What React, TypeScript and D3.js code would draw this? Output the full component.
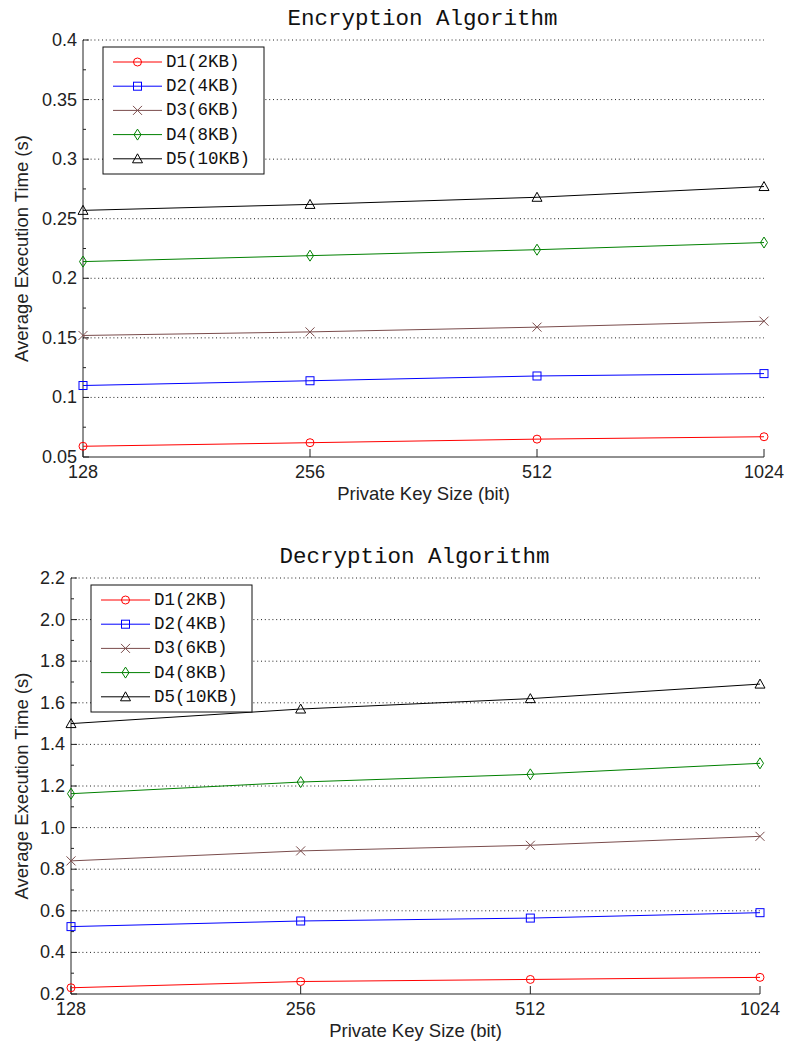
import React, { useEffect, useRef } from "react";
import * as d3 from "d3";

// private key sizes (bit) on the x axis
const keySizes = [128, 256, 512, 1024];
const seriesNames = ["D1(2KB)", "D2(4KB)", "D3(6KB)", "D4(8KB)", "D5(10KB)"];
const seriesColors = ["#ff0000", "#0000ff", "#7a4c4c", "#008000", "#000000"];
const seriesMarkers = ["circle", "square", "cross", "diamond", "triangle"];

// encryption times (s)
const encD1 = [0.059, 0.062, 0.065, 0.067];
const encD2 = [0.11, 0.114, 0.118, 0.12];
const encD3 = [0.152, 0.155, 0.159, 0.164];
const encD4 = [0.214, 0.219, 0.224, 0.23];
const encD5 = [0.257, 0.262, 0.268, 0.277];
const encTicks = [0.05, 0.1, 0.15, 0.2, 0.25, 0.3, 0.35, 0.4];
const encTickLabels = ["0.05", "0.1", "0.15", "0.2", "0.25", "0.3", "0.35", "0.4"];

// decryption times (s)
const decD1 = [0.23, 0.26, 0.27, 0.28];
const decD2 = [0.524, 0.551, 0.565, 0.591];
const decD3 = [0.84, 0.888, 0.915, 0.958];
const decD4 = [1.163, 1.219, 1.256, 1.309];
const decD5 = [1.5, 1.57, 1.62, 1.69];
const decTicks = [0.2, 0.4, 0.6, 0.8, 1.0, 1.2, 1.4, 1.6, 1.8, 2.0, 2.2];
const decTickLabels = ["0.2", "0.4", "0.6", "0.8", "1.0", "1.2", "1.4", "1.6", "1.8", "2.0", "2.2"];

const SANS = "'Liberation Sans', Arial, sans-serif";
const MONO = "'Liberation Mono', 'Courier New', monospace";

type Box = { left: number; right: number; top: number; bottom: number };

const drawMarker = (g: any, type: string, x: number, y: number, color: string) => {
  const m = g.append("g").attr("transform", `translate(${x},${y})`);
  const style = (s: any) => s.attr("fill", "none").attr("stroke", color).attr("stroke-width", 1);
  if (type === "circle") style(m.append("circle").attr("r", 4));
  else if (type === "square") style(m.append("rect").attr("x", -4).attr("y", -4).attr("width", 8).attr("height", 8));
  else if (type === "cross") style(m.append("path").attr("d", "M-4.5,-4.5L4.5,4.5M4.5,-4.5L-4.5,4.5"));
  else if (type === "diamond") style(m.append("path").attr("d", "M0,-5.5L3.5,0L0,5.5L-3.5,0Z"));
  else if (type === "triangle") style(m.append("path").attr("d", "M0,-5L5,4L-5,4Z"));
};

const drawChart = (svg: any, box: Box, title: string, series: number[][], ticks: number[], tickLabels: string[]) => {
  const x = d3.scaleLog().base(2).domain([keySizes[0], keySizes[keySizes.length - 1]]).range([box.left, box.right]);
  const y = d3.scaleLinear().domain([ticks[0], ticks[ticks.length - 1]]).range([box.bottom, box.top]);
  const cx = (box.left + box.right) / 2;

  // dotted grid
  svg
    .append("g")
    .selectAll("line")
    .data(ticks.slice(1))
    .join("line")
    .attr("x1", box.left)
    .attr("x2", box.right)
    .attr("y1", (d: number) => y(d))
    .attr("y2", (d: number) => y(d))
    .attr("stroke", "#222")
    .attr("stroke-width", 1)
    .attr("stroke-dasharray", "1 2.8");

  // axes lines
  svg.append("line").attr("x1", box.left).attr("x2", box.left).attr("y1", box.top).attr("y2", box.bottom).attr("stroke", "#222");
  svg.append("line").attr("x1", box.left).attr("x2", box.right).attr("y1", box.bottom).attr("y2", box.bottom).attr("stroke", "#222");

  // y ticks (major + minor), pointing inward
  svg
    .append("g")
    .selectAll("line")
    .data(ticks)
    .join("line")
    .attr("x1", box.left)
    .attr("x2", box.left + 6)
    .attr("y1", (d: number) => y(d))
    .attr("y2", (d: number) => y(d))
    .attr("stroke", "#222");
  svg
    .append("g")
    .selectAll("line")
    .data(d3.pairs(ticks).map(([a, b]) => (a + b) / 2))
    .join("line")
    .attr("x1", box.left)
    .attr("x2", box.left + 3)
    .attr("y1", (d: number) => y(d))
    .attr("y2", (d: number) => y(d))
    .attr("stroke", "#222");

  svg
    .append("g")
    .selectAll("text")
    .data(ticks)
    .join("text")
    .attr("x", box.left - 6)
    .attr("y", (d: number) => y(d))
    .attr("text-anchor", "end")
    .attr("dominant-baseline", "central")
    .attr("font-family", SANS)
    .attr("font-size", 18)
    .attr("fill", "#222")
    .text((d: number, i: number) => tickLabels[i]);

  // x ticks
  svg
    .append("g")
    .selectAll("line")
    .data(keySizes)
    .join("line")
    .attr("x1", (d: number) => x(d))
    .attr("x2", (d: number) => x(d))
    .attr("y1", box.bottom)
    .attr("y2", box.bottom - 8)
    .attr("stroke", "#222");
  svg
    .append("g")
    .selectAll("text")
    .data(keySizes)
    .join("text")
    .attr("x", (d: number) => x(d))
    .attr("y", box.bottom + 21)
    .attr("text-anchor", "middle")
    .attr("font-family", SANS)
    .attr("font-size", 18)
    .attr("fill", "#222")
    .text((d: number) => d);

  // labels
  svg
    .append("text")
    .attr("x", cx)
    .attr("y", box.bottom + 43)
    .attr("text-anchor", "middle")
    .attr("font-family", SANS)
    .attr("font-size", 18.5)
    .attr("fill", "#222")
    .text("Private Key Size (bit)");
  svg
    .append("text")
    .attr("transform", `translate(28,${(box.top + box.bottom) / 2}) rotate(-90)`)
    .attr("text-anchor", "middle")
    .attr("font-family", SANS)
    .attr("font-size", 18.5)
    .attr("fill", "#222")
    .text("Average Execution Time (s)");
  svg
    .append("text")
    .attr("x", cx - 1)
    .attr("y", box.top - 15)
    .attr("text-anchor", "middle")
    .attr("font-family", MONO)
    .attr("font-size", 22.5)
    .attr("fill", "#111")
    .text(title);

  // series
  const line = d3
    .line<number>()
    .x((d, i) => x(keySizes[i]))
    .y((d) => y(d));
  series.forEach((vals, s) => {
    svg.append("path").attr("d", line(vals)).attr("fill", "none").attr("stroke", seriesColors[s]).attr("stroke-width", 1);
    vals.forEach((v, i) => drawMarker(svg, seriesMarkers[s], x(keySizes[i]), y(v), seriesColors[s]));
  });

  // legend
  const lx = box.left + 20;
  const ly = box.top + 7;
  const lg = svg.append("g");
  lg.append("rect").attr("x", lx).attr("y", ly).attr("width", 161).attr("height", 127).attr("fill", "#fff").attr("stroke", "#111");
  seriesNames.forEach((name, s) => {
    const ry = ly + 15 + s * 24.2;
    lg.append("line").attr("x1", lx + 10).attr("x2", lx + 59).attr("y1", ry).attr("y2", ry).attr("stroke", seriesColors[s]);
    drawMarker(lg, seriesMarkers[s], lx + 34.5, ry, seriesColors[s]);
    lg
      .append("text")
      .attr("x", lx + 63)
      .attr("y", ry)
      .attr("dominant-baseline", "central")
      .attr("font-family", MONO)
      .attr("font-size", 17.5)
      .attr("fill", "#111")
      .text(name);
  });
};

const App = () => {
  const svgRef = useRef<SVGSVGElement>(null);

  useEffect(() => {
    const svg = d3.select(svgRef.current);
    svg.selectAll("*").remove();
    drawChart(
      svg,
      { left: 83, right: 764, top: 40, bottom: 457 },
      "Encryption Algorithm",
      [encD1, encD2, encD3, encD4, encD5],
      encTicks,
      encTickLabels
    );
    drawChart(
      svg,
      { left: 71, right: 760, top: 578, bottom: 994 },
      "Decryption Algorithm",
      [decD1, decD2, decD3, decD4, decD5],
      decTicks,
      decTickLabels
    );
  }, []);

  return (
    <svg
      ref={svgRef}
      width={786}
      height={1046}
      style={{ position: "absolute", left: 0, top: 0, background: "#fff" }}
    ></svg>
  );
};

export default App;
